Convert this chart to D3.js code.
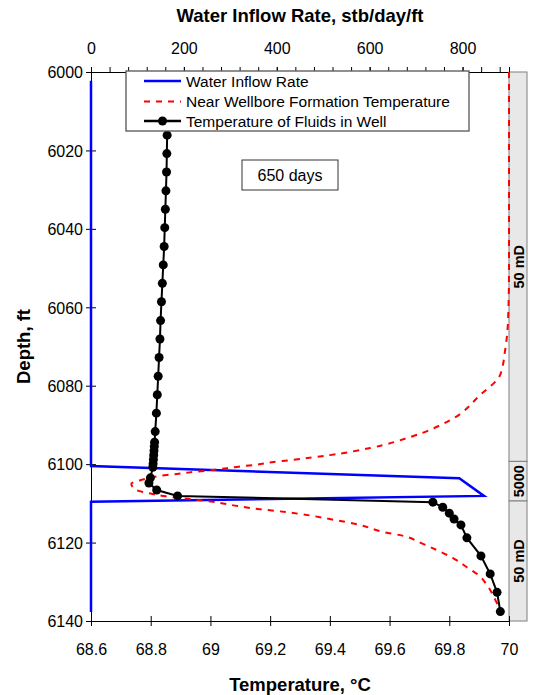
<!DOCTYPE html>
<html lang="en">
<head>
<meta charset="UTF-8">
<title>Water Inflow Rate and Temperature vs Depth</title>
<script src="https://cdnjs.cloudflare.com/ajax/libs/d3/7.8.5/d3.min.js"></script>
<style>
    body { margin: 0; background: white; }
    svg { display: block; font-family: "Liberation Sans", Arial, sans-serif; }
    .axis text { font-size: 16px; fill: black; font-family: "Liberation Sans", Arial, sans-serif; }
    .axis path, .axis line { stroke: black; stroke-width: 1; }
    .title { font-size: 18.5px; font-weight: bold; }
</style>
</head>
<body>
<div id="chart"></div>
<script>
// water inflow rate (top axis), stb/day/ft
const inflowDepth = [6002.2, 6100.5, 6103.6, 6108.1, 6109.6, 6137.7];
const inflowRate = [0, 0, 793, 846, 0, 0];

// near wellbore formation temperature, deg C
const formDepth = [6000, 6050, 6063, 6071, 6077.3, 6082.4, 6088.8, 6093.1, 6095.9, 6097.7, 6099.0, 6099.5,
    6100.1, 6100.7, 6101.5, 6102.1, 6102.5, 6103.0, 6104.0, 6105.0, 6106.6, 6107.5, 6108.2, 6108.9, 6109.6,
    6110.7, 6111.5, 6111.9, 6112.7, 6114.0, 6115.5, 6117.4, 6118.1, 6120.2, 6121.7, 6124.0, 6126.3, 6128.3,
    6130.8, 6134.6, 6136.4, 6137.3];
const formTemp = [70.0, 70.0, 69.997, 69.987, 69.970, 69.903, 69.803, 69.669, 69.535, 69.40, 69.266, 69.206,
    69.156, 69.089, 69.008, 68.931, 68.887, 68.830, 68.77, 68.735, 68.752, 68.80, 68.85, 68.93, 69.008,
    69.092, 69.166, 69.216, 69.30, 69.40, 69.50, 69.585, 69.635, 69.708, 69.752, 69.814, 69.859, 69.898,
    69.926, 69.954, 69.965, 69.968];

// temperature of fluids in well, deg C
const fluidDepth = [6016.1, 6020.8, 6025.5, 6030.3, 6035.0, 6039.7, 6044.5, 6049.2, 6053.9, 6058.6, 6063.4,
    6068.1, 6072.8, 6077.6, 6082.3, 6087.0, 6091.7, 6094.4, 6095.5, 6096.6, 6097.7, 6098.8, 6099.9, 6100.8,
    6103.5, 6104.8, 6106.6, 6108.1, 6109.7, 6111.0, 6112.5, 6114.0, 6115.5, 6118.8, 6123.4, 6128.0, 6132.7, 6137.6];
const fluidTemp = [68.855, 68.854, 68.853, 68.851, 68.849, 68.847, 68.845, 68.842, 68.839, 68.836, 68.833,
    68.831, 68.828, 68.825, 68.822, 68.819, 68.815, 68.813, 68.812, 68.811, 68.810, 68.809, 68.808, 68.807,
    68.799, 68.794, 68.82, 68.89, 69.745, 69.778, 69.80, 69.816, 69.839, 69.859, 69.906, 69.937, 69.96, 69.971];

// permeability zones on the right
const zoneTop = [6000, 6099.3, 6109.4];
const zoneBottom = [6099.3, 6109.4, 6140];
const zoneLabel = ['50 mD', '5000', '50 mD'];

const tempTicks = [68.6, 68.8, 69, 69.2, 69.4, 69.6, 69.8, 70];
const rateTicks = [0, 200, 400, 600, 800];
const depthTicks = [6000, 6020, 6040, 6060, 6080, 6100, 6120, 6140];

const legendLabels = ['Water Inflow Rate', 'Near Wellbore Formation Temperature', 'Temperature of Fluids in Well'];

const width = 536, height = 695;
const plotLeft = 91, plotRight = 509, plotTop = 72, plotBottom = 621;

const svg = d3.select('#chart').append('svg').attr('width', width).attr('height', height);

const x = d3.scaleLinear().domain([68.6, 70]).range([plotLeft, plotRight]);
const xTop = d3.scaleLinear().domain([0, 900]).range([plotLeft, plotRight]);
const y = d3.scaleLinear().domain([6000, 6140]).range([plotTop, plotBottom]);

// zones box
const zones = svg.append('g');
zoneLabel.forEach((lab, i) => {
    zones.append('rect')
        .attr('x', plotRight).attr('width', 18)
        .attr('y', y(zoneTop[i])).attr('height', y(zoneBottom[i]) - y(zoneTop[i]))
        .attr('fill', '#e8e8e8').attr('stroke', '#7f7f7f').attr('stroke-width', 1);
    const cy = (y(zoneTop[i]) + y(zoneBottom[i])) / 2;
    zones.append('text')
        .attr('transform', `translate(${plotRight + 14.5},${cy}) rotate(-90)`)
        .attr('text-anchor', 'middle')
        .style('font-size', '14.5px').style('font-weight', 'bold')
        .text(lab);
});

// axes
const bottomAxis = svg.append('g').attr('class', 'axis')
    .attr('transform', `translate(0,${plotBottom})`)
    .call(d3.axisBottom(x).tickValues(tempTicks).tickFormat(d3.format('')).tickSizeOuter(0).tickSize(5));
bottomAxis.selectAll('.tick line').attr('y1', -5).attr('y2', 5);
bottomAxis.selectAll('.tick text').attr('y', 34).attr('dy', 0);

const leftAxis = svg.append('g').attr('class', 'axis')
    .attr('transform', `translate(${plotLeft},0)`)
    .call(d3.axisLeft(y).tickValues(depthTicks).tickFormat(d3.format('d')).tickSizeOuter(0).tickSize(5).tickPadding(3));
leftAxis.selectAll('.tick line').attr('x1', 5).attr('x2', -5);
leftAxis.selectAll('.tick text').attr('dy', '0.36em');

const topMinor = svg.append('g').attr('class', 'axis')
    .attr('transform', `translate(0,${plotTop})`)
    .call(d3.axisTop(xTop).tickValues(d3.range(0, 881, 40)).tickFormat('').tickSizeOuter(0).tickSize(5));
topMinor.select('.domain').remove();
const topAxis = svg.append('g').attr('class', 'axis')
    .attr('transform', `translate(0,${plotTop})`)
    .call(d3.axisTop(xTop).tickValues(rateTicks).tickFormat(d3.format('d')).tickSizeOuter(0).tickSize(5));
topAxis.selectAll('.tick line').attr('y1', 5).attr('y2', -5);
topAxis.selectAll('.tick text').attr('y', -18).attr('dy', 0);

// series
const inflowLine = d3.line().x(i => xTop(inflowRate[i])).y(i => y(inflowDepth[i]));
svg.append('path')
    .attr('d', inflowLine(d3.range(inflowDepth.length)))
    .attr('fill', 'none').attr('stroke', '#0000ff').attr('stroke-width', 2.5);

const formLine = d3.line().x(i => x(formTemp[i])).y(i => y(formDepth[i])).curve(d3.curveMonotoneY);
svg.append('path')
    .attr('d', formLine(d3.range(formDepth.length)))
    .attr('fill', 'none').attr('stroke', '#ff0000').attr('stroke-width', 2)
    .attr('stroke-dasharray', '6,6');

const fluidLine = d3.line().x(i => x(fluidTemp[i])).y(i => y(fluidDepth[i]));
svg.append('path')
    .attr('d', fluidLine(d3.range(fluidDepth.length)))
    .attr('fill', 'none').attr('stroke', 'black').attr('stroke-width', 2);
svg.append('g').selectAll('circle')
    .data(d3.range(fluidDepth.length))
    .enter().append('circle')
    .attr('cx', i => x(fluidTemp[i])).attr('cy', i => y(fluidDepth[i]))
    .attr('r', 4.5).attr('fill', 'black');

// legend
const legend = svg.append('g').attr('transform', 'translate(126,71)');
legend.append('rect').attr('width', 343).attr('height', 60)
    .attr('fill', 'white').attr('stroke', '#555').attr('stroke-width', 1.3);
const rowY = [10, 30.5, 50];
legend.append('line').attr('x1', 18).attr('x2', 55).attr('y1', rowY[0]).attr('y2', rowY[0])
    .attr('stroke', '#0000ff').attr('stroke-width', 2.5);
legend.append('line').attr('x1', 18).attr('x2', 55).attr('y1', rowY[1]).attr('y2', rowY[1])
    .attr('stroke', '#ff0000').attr('stroke-width', 2).attr('stroke-dasharray', '6,6');
legend.append('line').attr('x1', 18).attr('x2', 55).attr('y1', rowY[2]).attr('y2', rowY[2])
    .attr('stroke', 'black').attr('stroke-width', 2.5);
legend.append('circle').attr('cx', 36.5).attr('cy', rowY[2]).attr('r', 4.5).attr('fill', 'black');
legend.selectAll('text.lab').data(legendLabels).enter().append('text')
    .attr('class', 'lab')
    .attr('x', 60).attr('y', (_, i) => rowY[i]).attr('dy', '0.36em')
    .style('font-size', '15.5px')
    .text(d => d);

// annotation
const note = svg.append('g').attr('transform', 'translate(242,160)');
note.append('rect').attr('width', 96).attr('height', 30)
    .attr('fill', 'white').attr('stroke', '#333').attr('stroke-width', 1);
note.append('text').attr('x', 48).attr('y', 15).attr('dy', '0.36em')
    .attr('text-anchor', 'middle').style('font-size', '16px').text('650 days');

// titles
svg.append('text').attr('class', 'title').attr('x', 300).attr('y', 22)
    .attr('text-anchor', 'middle').text('Water Inflow Rate, stb/day/ft');
svg.append('text').attr('class', 'title').attr('x', 300).attr('y', 691)
    .attr('text-anchor', 'middle').text('Temperature, °C');
svg.append('text').attr('class', 'title')
    .attr('transform', `translate(30,${(plotTop + plotBottom) / 2}) rotate(-90)`)
    .attr('text-anchor', 'middle').text('Depth, ft');
</script>
</body>
</html>
